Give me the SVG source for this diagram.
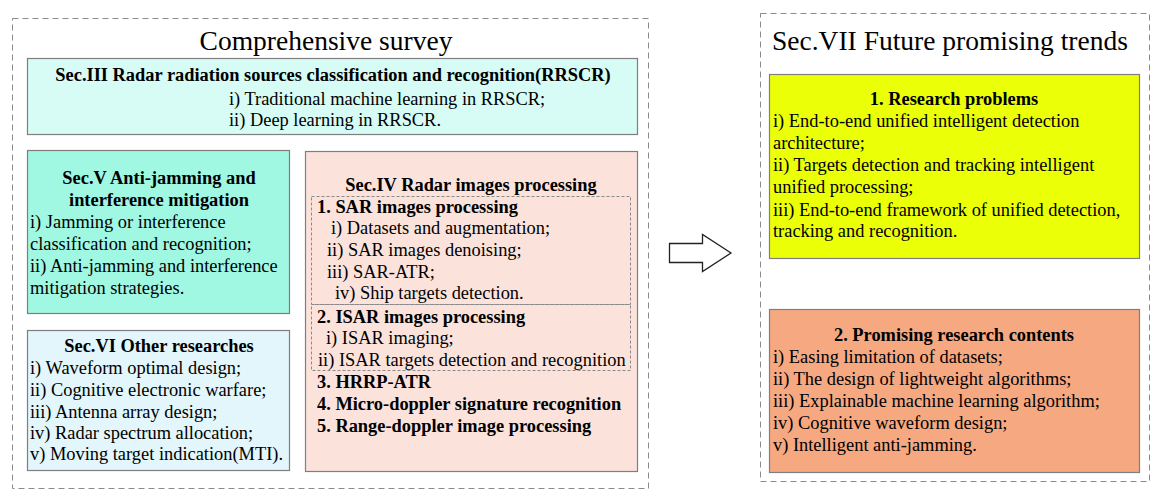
<svg xmlns="http://www.w3.org/2000/svg" width="1163" height="501" viewBox="0 0 1163 501">
<style>
.dash{fill:none;stroke:#8a8a8a;stroke-width:1;stroke-dasharray:6,4}
.idash{fill:none;stroke:#8a8a8a;stroke-width:1;stroke-dasharray:3,2}
.box{stroke:#7f7f7f;stroke-width:1.2}
text{font-family:"Liberation Serif","Times New Roman",serif;fill:#000}
.t{font-size:27.5px}
.b{font-size:18.4px;font-weight:bold}
.n{font-size:18.4px}
.c{text-anchor:middle}
</style>
<rect width="1163" height="501" fill="#fff"/>
<g id="survey">
<rect class="dash" x="12.5" y="18.5" width="636" height="470"/>
<text class="t c" x="326" y="50">Comprehensive survey</text>
</g>
<g id="sec3">
<rect class="box" x="27.5" y="58.5" width="610" height="76" fill="#d6fcf5"/>
<text class="b c" x="333" y="81">Sec.III Radar radiation sources classification and recognition(RRSCR)</text>
<text class="n" x="229" y="105">i) Traditional machine learning in RRSCR;</text>
<text class="n" x="229" y="126">ii) Deep learning in RRSCR.</text>
</g>
<g id="sec5">
<rect class="box" x="27.5" y="150.5" width="262" height="163" fill="#a0f7e2"/>
<text class="b c" x="159" y="184">Sec.V Anti-jamming and</text>
<text class="b c" x="159" y="206">interference mitigation</text>
<text class="n" x="30" y="228">i) Jamming or interference</text>
<text class="n" x="30" y="250">classification and recognition;</text>
<text class="n" x="30" y="272">ii) Anti-jamming and interference</text>
<text class="n" x="30" y="294">mitigation strategies.</text>
</g>
<g id="sec6">
<rect class="box" x="27.5" y="330.5" width="262" height="140" fill="#e3f6fb"/>
<text class="b c" x="159" y="352">Sec.VI Other researches</text>
<text class="n" x="30" y="374">i) Waveform optimal design;</text>
<text class="n" x="30" y="396">ii) Cognitive electronic warfare;</text>
<text class="n" x="30" y="418">iii) Antenna array design;</text>
<text class="n" x="30" y="439">iv) Radar spectrum allocation;</text>
<text class="n" x="30" y="460">v) Moving target indication(MTI).</text>
</g>
<g id="sec4">
<rect class="box" x="305.5" y="151.5" width="332" height="320" fill="#fbe3dc"/>
<text class="b c" x="471" y="191">Sec.IV Radar images processing</text>
<rect class="idash" x="311.5" y="196.5" width="319" height="108"/>
<rect class="idash" x="311.5" y="304.5" width="319" height="66"/>
<text class="b" x="317" y="213">1. SAR images processing</text>
<text class="n" x="331" y="234">i) Datasets and augmentation;</text>
<text class="n" x="327" y="256">ii) SAR images denoising;</text>
<text class="n" x="327" y="278">iii) SAR-ATR;</text>
<text class="n" x="335" y="299">iv) Ship targets detection.</text>
<text class="b" x="317" y="323">2. ISAR images processing</text>
<text class="n" x="326" y="344">i) ISAR imaging;</text>
<text class="n" x="318" y="366">ii) ISAR targets detection and recognition</text>
<text class="b" x="317" y="388">3. HRRP-ATR</text>
<text class="b" x="317" y="410">4. Micro-doppler signature recognition</text>
<text class="b" x="317" y="432">5. Range-doppler image processing</text>
</g>
<g id="connectors">
<polygon points="669.5,243.5 702.5,243.5 702.5,234.5 731,253 702.5,271.5 702.5,262.5 669.5,262.5" fill="#fff" stroke="#222" stroke-width="1.3"/>
</g>
<g id="sec7">
<rect class="dash" x="760.5" y="13.5" width="389" height="468"/>
<text class="t" x="772" y="50">Sec.VII Future promising trends</text>
</g>
<g id="problems">
<rect class="box" x="769.5" y="74.5" width="370" height="184" fill="#ebff07"/>
<text class="b c" x="954" y="105">1. Research problems</text>
<text class="n" x="773" y="127">i) End-to-end unified intelligent detection</text>
<text class="n" x="773" y="149">architecture;</text>
<text class="n" x="773" y="171">ii) Targets detection and tracking intelligent</text>
<text class="n" x="773" y="193">unified processing;</text>
<text class="n" x="773" y="216">iii) End-to-end framework of unified detection,</text>
<text class="n" x="773" y="237">tracking and recognition.</text>
</g>
<g id="contents">
<rect class="box" x="769.5" y="309.5" width="370" height="163" fill="#f6a881"/>
<text class="b c" x="954" y="341">2. Promising research contents</text>
<text class="n" x="773" y="363">i) Easing limitation of datasets;</text>
<text class="n" x="773" y="385">ii) The design of lightweight algorithms;</text>
<text class="n" x="773" y="407">iii) Explainable machine learning algorithm;</text>
<text class="n" x="773" y="429">iv) Cognitive waveform design;</text>
<text class="n" x="773" y="451">v) Intelligent anti-jamming.</text>
</g>
</svg>
